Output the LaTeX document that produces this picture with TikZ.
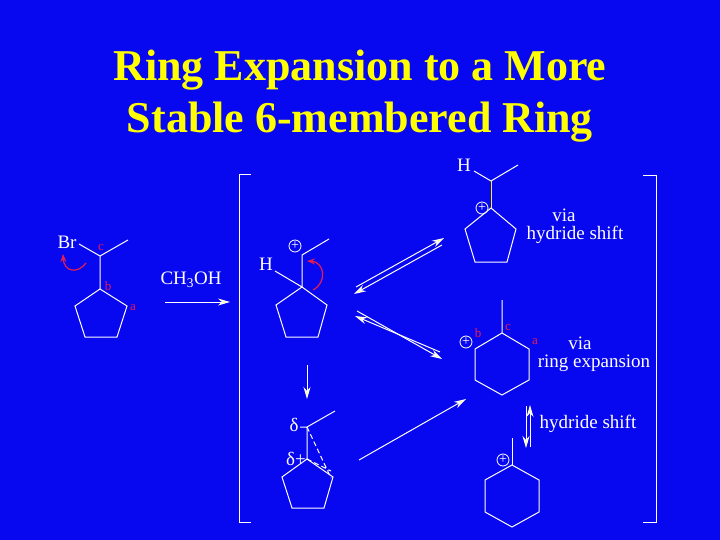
\documentclass[tikz,border=0pt]{standalone}
\usepackage{fontspec}
\setmainfont{Liberation Serif}
\usetikzlibrary{arrows.meta}
\definecolor{bg}{RGB}{8,8,240}
\definecolor{ttl}{RGB}{255,255,0}
\definecolor{rd}{RGB}{230,30,80}
\definecolor{yl}{RGB}{255,255,120}
\begin{document}
\begin{tikzpicture}[x=1pt,y=-1pt,
 bd/.style={white,line width=1pt},
 lbl/.style={white,font=\fontsize{19}{19}\selectfont,inner sep=0pt},
 rl/.style={rd,font=\fontsize{13}{13}\selectfont,inner sep=0pt},
 pl/.style={white,draw=white,circle,line width=0.8pt,inner sep=0pt,minimum size=12pt,font=\fontsize{14}{14}\selectfont},
 ar/.style={white,line width=1pt,-{Stealth[length=12pt,width=7pt,fill=yl]}},
 cur/.style={rd,line width=1.2pt,-{Stealth[length=8pt,width=6pt]}}]
\fill[bg] (0,0) rectangle (720,540);
\useasboundingbox (0,0) rectangle (720,540);
\node[ttl,font=\bfseries\fontsize{44}{52}\selectfont,align=center] (title) at (360,96) {Ring Expansion to a More\\Stable 6-membered Ring};
% molecule 1
\draw[bd] (100,289)--(127,306)--(117,337)--(85,337)--(75,306)--cycle;
\draw[bd] (100,289)--(100,256)--(128,240) (100,256)--(79,244);
\node[lbl] (br) at (67,242) {Br};
\node[rl] (c1) at (101,247) {c};
\node[rl] (b1) at (108,286) {b};
\node[rl] (a1) at (133,308) {a};
\draw[cur] (86,263) .. controls (78,274) and (64,272) .. (63,254);
\node[lbl] (ch3oh) at (191,280) {CH\textsubscript{3}OH};
\coordinate (r1s) at (165,302); \coordinate (r1e) at (230,302);
\draw[ar] (r1s)--(r1e);
% brackets
\draw[bd] (251,175)--(239,175)--(239,522)--(251,522);
\draw[bd] (643,176)--(656,176)--(656,522)--(643,522);
% molecule 2
\draw[bd] (302,287)--(327,305)--(318,337)--(286,337)--(276,305)--cycle;
\draw[bd] (302,287)--(302,255)--(329,239) (302,287)--(275,271);
\node[lbl] (h2) at (266,264) {H};
\node[pl] (p2) at (295,246) {\raisebox{0.5pt}{+}};
\draw[cur] (313,290) .. controls (328,282) and (324,262) .. (307,261);
% equilibrium arrows
\draw[ar] (356,287)--(444,238);
\draw[ar] (442,245)--(354,294);
\draw[ar] (357,311)--(442,359);
\draw[ar] (440,352)--(355,316);
% molecule 3
\draw[bd] (491,208)--(516,229)--(507,262)--(475,262)--(465,229)--cycle;
\draw[bd] (474,171)--(491,181)--(518,165);
\draw[yellow,line width=1pt] (491,181)--(491,208);
\node[lbl] (h3) at (464,165) {H};
\node[pl] (p3) at (482,208) {\raisebox{0.5pt}{+}};
\node[lbl] (via1) at (564,215) {via};
\node[lbl] (hs1) at (575,235) {hydride shift};
% molecule 4
\draw[bd] (502,300)--(502,333)--(529,349)--(529,380)--(502,395)--(475,380)--(475,349)--(502,333);
\node[pl] (p4) at (466,342) {\raisebox{0.5pt}{+}};
\node[rl] (b4) at (478,333) {b};
\node[rl] (c4) at (508,327) {c};
\node[rl] (a4) at (535,342) {a};
\node[lbl] (via2) at (580,343) {via};
\node[lbl] (re) at (594,363) {ring expansion};
% molecule 5
\coordinate (d1) at (307,365); \coordinate (d2) at (307,399);
\draw[ar] (d1)--(d2);
\draw[bd] (307,459)--(333,477)--(324,508)--(292,508)--(282,477)--cycle;
\draw[bd] (300,427)--(307,427)--(335,411) (307,427)--(307,459);
\draw[bd,dash pattern=on 5pt off 3pt] (307,427)--(331,478) (307,459)--(331,471);
\node[lbl] (dm) at (294,425) {δ};
\node[lbl] (dp) at (296,459) {δ+};
\coordinate (a5s) at (359,460); \coordinate (a5e) at (466,399);
\draw[ar] (a5s)--(a5e);
% hydride shift vertical
\draw[ar] (530,447)--(530,405);
\draw[ar] (526,406)--(526,448);
\node[lbl] (hs2) at (588,424) {hydride shift};
% molecule 6
\draw[bd] (512,438)--(512,465);
\draw[bd] (512,465)--(539,480)--(539,512)--(512,527)--(485,512)--(485,480)--cycle;
\node[pl] (p6) at (503,460) {\raisebox{0.5pt}{+}};
\end{tikzpicture}
\end{document}
